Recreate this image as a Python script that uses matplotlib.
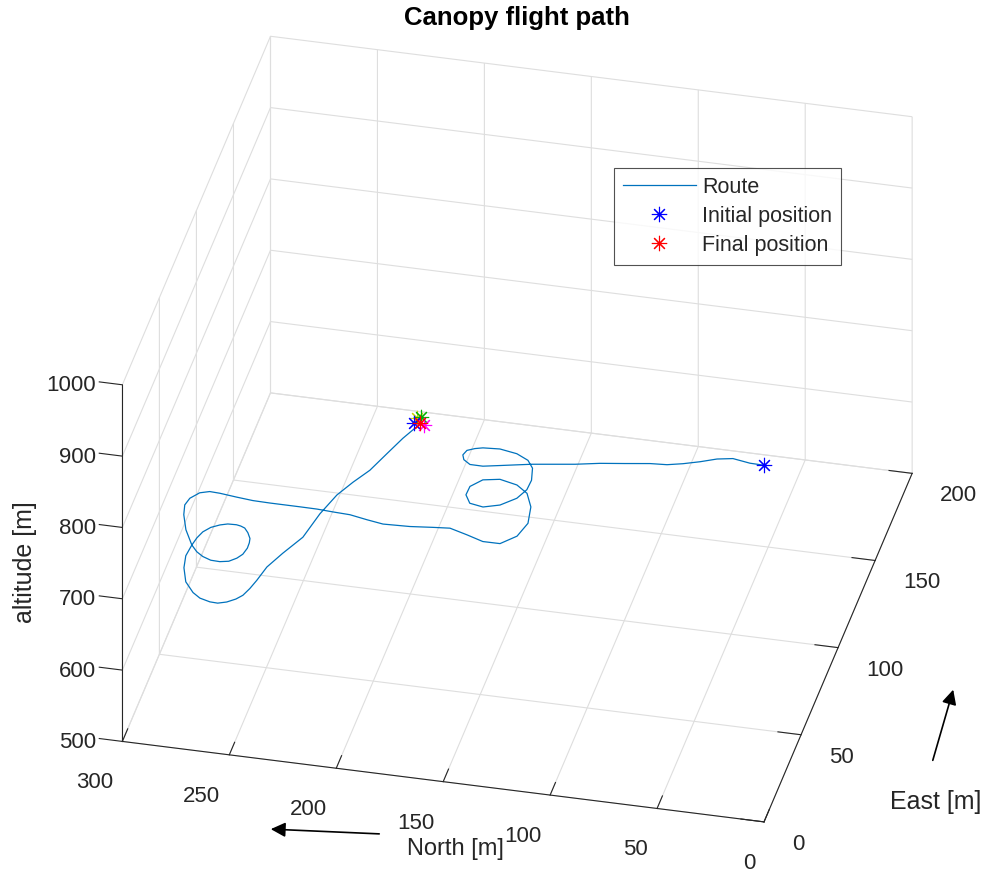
import numpy as np
import matplotlib
matplotlib.use("Agg")
import matplotlib.pyplot as plt
from matplotlib.patches import FancyArrowPatch
from mpl_toolkits.mplot3d import proj3d

plt.rcParams["font.family"] = ["Liberation Sans", "DejaVu Sans"]
plt.rcParams["grid.color"] = "#dedede"
plt.rcParams["grid.linewidth"] = 0.8
plt.rcParams["axes.edgecolor"] = "#262626"
plt.rcParams["xtick.color"] = "#262626"
plt.rcParams["ytick.color"] = "#262626"
plt.rcParams["text.color"] = "#262626"

W, H = 989, 890

# canopy track, metres (east, north, altitude)
east = [0.0, 2.1, 5.4, 6.4, 6.1, 5.8, 6.5, 7.9, 9.7, 11.2,
        12.5, 13.9, 15.0, 15.6, 16.4, 17.2, 18.8, 21.8, 25.1, 28.6,
        31.3, 33.4, 35.9, 36.8, 35.9, 33.1, 28.0, 23.7, 20.3, 17.8,
        17.9, 20.6, 26.1, 32.1, 38.5, 42.3, 42.7, 40.4, 35.2, 28.4,
        22.6, 20.1, 22.0, 26.9, 31.7, 33.3, 35.3, 38.3, 41.5, 45.4,
        48.1, 50.5, 52.9, 56.8, 59.3, 62.4, 65.7, 67.1, 66.9, 64.8,
        62.0, 57.8, 51.7, 46.1, 43.9, 42.5, 42.2, 43.2, 45.2, 48.6,
        52.3, 56.7, 60.5, 63.7, 67.5, 70.2, 71.8, 72.6, 73.6, 73.7,
        72.9, 71.1, 68.6, 65.5, 60.8, 55.7, 50.1, 46.3, 44.9, 45.1,
        46.1, 48.5, 51.9, 55.6, 60.9, 67.4, 77.3, 88.6, 102.2, 120.0,
        134.5, 145.3, 155.7, 169.1, 181.2, 190.9, 193.6]
north = [0.0, 7.3, 16.4, 24.2, 32.0, 39.9, 47.6, 56.0, 68.4, 80.6,
         92.7, 104.9, 113.7, 120.9, 129.1, 137.4, 144.0, 147.9, 149.5, 148.8,
         146.0, 143.0, 135.9, 128.3, 122.8, 119.7, 118.4, 119.1, 122.6, 129.6,
         137.6, 144.7, 148.4, 148.6, 144.8, 138.1, 130.3, 124.8, 121.2, 120.2,
         123.3, 130.4, 139.1, 148.2, 157.8, 166.4, 177.8, 191.4, 200.0, 209.3,
         218.2, 226.5, 235.3, 250.7, 259.5, 268.1, 277.2, 282.4, 287.0, 290.9,
         292.3, 291.3, 288.2, 283.5, 280.4, 277.1, 273.3, 269.4, 265.9, 263.3,
         261.8, 261.2, 261.6, 262.4, 264.7, 267.1, 269.5, 271.8, 276.2, 279.9,
         283.9, 287.0, 288.9, 290.2, 291.4, 290.5, 287.7, 283.0, 279.3, 274.7,
         271.4, 268.0, 264.9, 262.9, 261.5, 260.5, 259.2, 255.7, 251.0, 249.2,
         246.3, 242.5, 238.2, 234.8, 231.6, 228.4, 227.9]
alt = [1000, 995, 990, 984, 978, 973, 967, 962, 953, 945,
       936, 928, 922, 917, 911, 905, 901, 899, 897, 895,
       892, 889, 884, 878, 873, 870, 866, 863, 858, 852,
       846, 842, 839, 836, 831, 825, 819, 815, 810, 804,
       799, 792, 787, 781, 775, 769, 761, 752, 747, 741,
       735, 730, 724, 714, 708, 702, 696, 693, 690, 686,
       683, 680, 675, 669, 666, 664, 661, 658, 655, 652,
       649, 647, 645, 643, 641, 640, 638, 637, 634, 631,
       628, 625, 622, 619, 615, 611, 606, 602, 599, 595,
       592, 589, 586, 583, 580, 576, 571, 564, 555, 545,
       537, 530, 523, 515, 508, 502, 500]

# extra markers around the touchdown point
mark_east = [196.2, 197.0, 193.2, 192.8]
mark_north = [230.2, 228.6, 230.6, 225.8]
mark_colors = ["#c8d400", "#00b000", "#0000ff", "#ff00ff"]

east_ticks = [0, 50, 100, 150, 200]
north_ticks = [0, 50, 100, 150, 200, 250, 300]
alt_ticks = [500, 600, 700, 800, 900, 1000]

fig = plt.figure(figsize=(W / 100, H / 100), dpi=100)
ax = fig.add_axes([0, 0, 1, 1], projection="3d", proj_type="ortho")
ax.set_box_aspect((1, 1, 0.645))
ax.view_init(elev=32.9, azim=-167)
ax.set_xlim(0, 200)
ax.set_ylim(0, 300)
ax.set_zlim(500, 1000)
ax.set_xticks(east_ticks)
ax.set_yticks(north_ticks)
ax.set_zticks(alt_ticks)
ax.set_xticklabels([])
ax.set_yticklabels([])
ax.set_zticklabels([])
# altitude ticks point out along north, like the other two axes
ax.zaxis._get_tickdir = lambda position: 1
for a in (ax.xaxis, ax.yaxis, ax.zaxis):
    a.set_pane_color((1, 1, 1, 0))
    a._axinfo["tick"]["inward_factor"] = 0.0
    a._axinfo["tick"]["outward_factor"] = 0.45

star = (8, 2, 0)
ax.plot(east, north, alt, color="#0072BD", lw=0.9, label="Route")
for e, n, c in zip(mark_east, mark_north, mark_colors):
    ax.plot([e], [n], [alt[-1]], ls="none", marker=star, ms=11, mew=0.8, color=c)
ax.plot([east[0]], [north[0]], [alt[0]], ls="none", marker=star, ms=11, mew=0.8, color="#0000ff",
        label="Initial position")
ax.plot([east[-1]], [north[-1]], [alt[-1]], ls="none", marker=star, ms=11, mew=0.8, color="#ff0000",
        label="Final position")


def to_px(x, y, z):
    u, v, _ = proj3d.proj_transform(np.atleast_1d(np.asarray(x, float)), np.atleast_1d(np.asarray(y, float)),
                                    np.atleast_1d(np.asarray(z, float)), ax.get_proj())
    return ax.transData.transform(np.column_stack([u, v]))


# scale and shift the axes so the box corners land where wanted
fig.canvas.draw()
corners = np.array([(0, 0, 500), (0, 300, 500), (200, 0, 500), (200, 300, 1000), (0, 300, 1000)])
target = np.array([(764, 822), (122.7, 741.7), (912, 473), (270, 36), (122.7, 385)], float)
target[:, 1] = H - target[:, 1]
P = to_px(corners[:, 0], corners[:, 1], corners[:, 2])
A = np.zeros((10, 3))
A[:5, 0] = P[:, 0]; A[:5, 1] = 1
A[5:, 0] = P[:, 1]; A[5:, 2] = 1
k, tx, ty = np.linalg.lstsq(A, np.concatenate([target[:, 0], target[:, 1]]), rcond=None)[0]
pos = ax.get_position()
l, b, w, h = pos.x0 * W, pos.y0 * H, pos.width * W, pos.height * H
ax.set_position([(k * l + tx) / W, (k * b + ty) / H, k * w / W, k * h / H])
fig.canvas.draw()

# tick labels, offset in pixels from the tick base
tk = dict(fontsize=16, color="#262626")
for e, (px, py) in zip(east_ticks, to_px(east_ticks, [0] * 5, [500] * 5)):
    fig.text((px + 28) / W, (py - 12) / H, str(e), ha="left", va="top", **tk)
for n, (px, py) in zip(north_ticks, to_px([0] * 7, north_ticks, [500] * 7)):
    fig.text((px - 9) / W, (py - 31) / H, str(n), ha="right", va="top", **tk)
for z, (px, py) in zip(alt_ticks, to_px([0] * 6, [300] * 6, alt_ticks)):
    fig.text((px - 26) / W, (py - 1) / H, str(z), ha="right", va="center", **tk)

fig.text(517 / W, 1 - 18 / H, "Canopy flight path", ha="center", va="center", fontsize=18.5,
         fontweight="bold", color="k")
fig.text(455 / W, 1 - 849 / H, "North [m]", ha="center", va="center", fontsize=17)
fig.text(936 / W, 1 - 802 / H, "East [m]", ha="center", va="center", fontsize=18)
fig.text(25 / W, 1 - 562 / H, "altitude [m]", ha="center", va="center", fontsize=18, rotation=90)
for tail, head in [((382, 834), (268, 829)), ((932, 763), (954, 687))]:
    fig.add_artist(FancyArrowPatch((tail[0] / W, 1 - tail[1] / H), (head[0] / W, 1 - head[1] / H),
                                   transform=fig.transFigure, arrowstyle="-|>", mutation_scale=22,
                                   lw=1.2, color="k"))

leg = ax.legend(loc="upper left", bbox_to_anchor=(614 / W, 1 - 168 / H), bbox_transform=fig.transFigure,
                fontsize=15.5, frameon=True, fancybox=False, handlelength=3.4, handletextpad=0.3,
                labelspacing=0.38, borderaxespad=0)
leg.get_frame().set_edgecolor("#262626")
leg.get_frame().set_linewidth(0.8)

fig.savefig("out.png", dpi=100)
